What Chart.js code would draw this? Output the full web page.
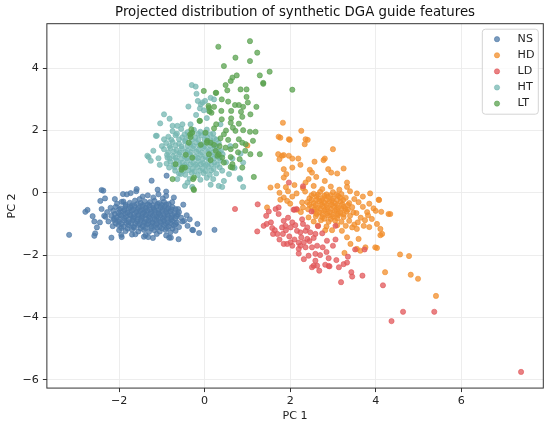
<!DOCTYPE html>
<html>
<head>
<meta charset="utf-8">
<script src="https://cdn.jsdelivr.net/npm/chart.js@4.4.1/dist/chart.umd.min.js"></script>
<style>
	html, body { margin: 0; padding: 0; background: #fff; }
	#mycanvas { display: block; }
</style>
</head>
<body>
<canvas id="mycanvas" width="550" height="425"></canvas>
<script>
// classes, in legend order
var classNames = ["NS", "HD", "LD", "HT", "LT"];
var xTicks = [-2, 0, 2, 4, 6];
var yTicks = [-6, -4, -2, 0, 2, 4];

// points, [PC 1, PC 2]
var nsPoints = [
	[-1.45,-0.12],[-1.33,-0.08],[-1.2,-0.15],[-1.08,-0.05],[-0.98,-0.18],[-1.52,-0.2],[-0.9,-0.1],
	[-2.05,-0.35],[-1.9,-0.28],[-1.75,-0.32],[-1.63,-0.25],[-1.5,-0.33],[-1.4,-0.28],[-1.28,-0.3],[-1.17,-0.26],[-1.06,-0.33],[-0.95,-0.29],[-0.84,-0.36],[-0.76,-0.3],
	[-1.85,-0.38],[-1.7,-0.4],[-1.58,-0.36],[-1.45,-0.39],[-1.33,-0.37],[-1.22,-0.4],[-1.1,-0.36],[-1.0,-0.39],[-0.9,-0.37],
	[-2.2,-0.48],[-2.08,-0.45],[-1.96,-0.5],[-1.85,-0.43],[-1.74,-0.47],[-1.64,-0.42],[-1.55,-0.49],[-1.46,-0.44],[-1.37,-0.47],[-1.29,-0.41],[-1.2,-0.48],[-1.12,-0.43],[-1.03,-0.47],[-0.94,-0.44],[-0.85,-0.5],[-0.75,-0.46],[-0.68,-0.52],
	[-2.0,-0.53],[-1.88,-0.55],[-1.78,-0.52],[-1.67,-0.54],[-1.57,-0.53],[-1.47,-0.55],[-1.38,-0.52],[-1.28,-0.54],[-1.18,-0.53],[-1.08,-0.55],[-0.98,-0.52],[-0.88,-0.54],[-0.78,-0.53],
	[-2.28,-0.62],[-2.14,-0.58],[-2.02,-0.64],[-1.9,-0.59],[-1.8,-0.63],[-1.7,-0.57],[-1.6,-0.62],[-1.51,-0.58],[-1.42,-0.63],[-1.34,-0.57],[-1.25,-0.61],[-1.16,-0.58],[-1.08,-0.64],[-0.99,-0.59],[-0.9,-0.62],[-0.8,-0.6],[-0.7,-0.65],[-0.6,-0.62],
	[-2.1,-0.68],[-1.98,-0.7],[-1.86,-0.67],[-1.75,-0.69],[-1.65,-0.68],[-1.55,-0.7],[-1.45,-0.67],[-1.36,-0.69],[-1.26,-0.68],[-1.17,-0.7],[-1.07,-0.67],[-0.97,-0.69],[-0.87,-0.68],[-0.76,-0.7],[-0.63,-0.69],
	[-2.32,-0.77],[-2.18,-0.74],[-2.06,-0.79],[-1.95,-0.73],[-1.84,-0.77],[-1.74,-0.72],[-1.65,-0.78],[-1.56,-0.73],[-1.47,-0.77],[-1.38,-0.72],[-1.3,-0.78],[-1.21,-0.74],[-1.12,-0.77],[-1.04,-0.72],[-0.95,-0.78],[-0.86,-0.74],[-0.77,-0.79],[-0.66,-0.75],[-0.55,-0.8],
	[-2.12,-0.83],[-2.0,-0.85],[-1.88,-0.82],[-1.77,-0.84],[-1.67,-0.83],[-1.57,-0.85],[-1.47,-0.82],[-1.37,-0.84],[-1.27,-0.83],[-1.17,-0.85],[-1.08,-0.82],[-0.98,-0.84],[-0.88,-0.83],[-0.78,-0.85],[-0.68,-0.82],
	[-2.25,-0.92],[-2.12,-0.88],[-2.0,-0.93],[-1.88,-0.89],[-1.78,-0.94],[-1.68,-0.88],[-1.58,-0.92],[-1.49,-0.87],[-1.4,-0.93],[-1.31,-0.89],[-1.22,-0.94],[-1.13,-0.88],[-1.04,-0.92],[-0.95,-0.89],[-0.86,-0.94],[-0.76,-0.9],[-0.65,-0.95],[-0.52,-0.92],
	[-2.08,-0.98],[-1.95,-1.0],[-1.83,-0.97],[-1.72,-0.99],[-1.62,-0.98],[-1.52,-1.0],[-1.42,-0.97],[-1.32,-0.99],[-1.22,-0.98],[-1.12,-1.0],[-1.02,-0.97],[-0.91,-0.99],[-0.8,-0.98],[-0.68,-1.0],
	[-2.15,-1.07],[-2.02,-1.03],[-1.9,-1.08],[-1.78,-1.04],[-1.66,-1.09],[-1.55,-1.03],[-1.45,-1.07],[-1.35,-1.02],[-1.25,-1.08],[-1.15,-1.04],[-1.05,-1.09],[-0.95,-1.03],[-0.84,-1.08],[-0.72,-1.05],[-0.6,-1.1],
	[-1.95,-1.13],[-1.8,-1.15],[-1.65,-1.12],[-1.5,-1.14],[-1.38,-1.13],[-1.25,-1.15],[-1.12,-1.12],[-1.0,-1.14],[-0.88,-1.13],[-0.75,-1.15],
	[-2.0,-1.2],[-1.85,-1.23],[-1.7,-1.18],[-1.55,-1.24],[-1.42,-1.19],[-1.3,-1.25],[-1.18,-1.2],[-1.05,-1.24],[-0.92,-1.19],[-0.8,-1.27],[-0.68,-1.22],
	[-1.95,-1.35],[-1.62,-1.33],[-1.38,-1.36],[-1.12,-1.32],[-0.9,-1.37],
	[-3.17,-1.35],[-2.37,0.07],[-2.44,-0.26],[-2.33,-0.18],[-2.74,-0.55],[-2.79,-0.61],[-2.58,-0.92],[-2.52,-1.11],[-2.56,-1.3],[-2.58,-1.38],
	[-2.18,-1.44],[-1.94,-1.42],[-1.7,-1.34],[-1.59,0.12],[-1.91,-0.04],[-1.73,-0.01],[-1.94,-0.29],[-0.9,0.04],[-1.24,0.39],[-0.89,0.55],
	[-0.62,-0.52],[-0.42,-0.72],[-0.29,-1.19],[-0.13,-1.29],[0.23,-1.19],[-0.61,-1.49],[-0.79,-1.44],[-1.21,-1.45],[-1.42,-1.41],[-0.17,-1.0],
	[-0.4,-1.06],[-2.41,-0.52],[-2.35,-0.74],[-1.82,-0.05],[-2.41,0.09],[-1.32,-1.42],[-0.83,-1.44],[-0.27,-1.2],[-2.62,-0.75],[-2.45,-0.95],
	[-0.48,-0.9],[-0.35,-0.85],[-0.5,-0.38],[-0.72,-0.15],[-1.1,0.1],[-2.1,-0.2],[-1.6,0.05]
];
var hdPoints = [
	[1.83,2.25],[2.26,1.99],[1.73,1.8],[1.99,1.7],[2.36,1.72],[2.41,1.7],[2.34,1.56],[3.0,1.4],[1.72,1.24],[1.85,1.21],
	[1.75,1.08],[1.97,1.19],[2.05,1.1],[2.19,1.1],[2.57,1.0],[2.78,1.05],[2.81,1.1],[3.25,0.78],[2.24,0.9],[2.05,0.81],
	[2.89,0.76],[2.96,0.65],[3.1,0.62],[2.46,0.74],[2.51,0.65],[1.85,0.76],[1.91,0.6],[1.85,0.49],[2.61,0.51],[2.81,0.38],
	[3.33,0.33],[3.33,0.19],[1.54,0.17],[1.7,0.22],[2.43,0.44],[2.36,0.33],[3.56,-0.02],[3.87,-0.02],[4.08,-0.23],[4.3,-0.68],
	[4.34,-0.68],[4.13,-0.61],[4.15,-1.32],[4.11,-1.36],[1.46,-0.47],[1.77,-0.22],[1.93,-0.26],[2.28,-0.31],[2.16,-0.54],[2.43,-0.79],
	[3.17,-0.15],[3.29,-0.52],[3.48,-0.63],[4.07,-0.22],[3.91,-0.84],[4.03,-1.0],[4.11,-1.16],[3.72,-1.06],[3.56,-1.16],[3.45,-1.11],
	[3.21,-1.22],[2.98,-1.2],[2.82,-1.2],[3.33,-1.43],[3.6,-1.48],[3.41,-1.64],[3.56,-1.8],[3.99,-1.75],[4.03,-1.77],[3.76,-1.75],
	[3.64,-1.86],[3.27,-1.93],[4.22,-2.55],[4.57,-1.98],[4.78,-2.03],[4.82,-2.63],[4.99,-2.76],[5.41,-3.31],[1.0,1.52],[1.77,1.77],
	[1.97,1.72],[1.81,1.19],
	[1.9,0.18],[2.1,0.25],[2.3,0.15],[2.55,0.22],[2.75,0.12],[2.95,0.2],[3.15,0.1],
	[1.75,0.0],[1.95,0.05],[2.15,-0.02],[2.35,0.04],[2.55,-0.03],[2.7,0.03],[2.85,-0.05],[3.0,0.02],[3.2,-0.04],[3.4,0.05],
	[2.5,-0.08],[2.65,-0.06],[2.8,-0.09],[2.95,-0.07],[3.08,-0.05],
	[1.85,-0.15],[2.05,-0.12],[2.45,-0.18],[2.62,-0.12],[2.75,-0.17],[2.88,-0.12],[3.0,-0.18],[3.12,-0.1],[3.3,-0.16],[3.5,-0.2],[3.7,-0.12],
	[2.5,-0.23],[2.62,-0.22],[2.74,-0.24],[2.86,-0.22],[2.98,-0.24],[3.1,-0.22],[3.24,-0.23],
	[2.0,-0.35],[2.4,-0.3],[2.55,-0.33],[2.68,-0.27],[2.8,-0.32],[2.92,-0.28],[3.05,-0.34],[3.18,-0.28],[3.38,-0.33],[3.6,-0.3],[3.85,-0.35],
	[2.45,-0.38],[2.6,-0.39],[2.73,-0.37],[2.85,-0.39],[2.97,-0.37],[3.1,-0.39],[3.22,-0.37],[3.35,-0.39],
	[2.3,-0.47],[2.5,-0.44],[2.63,-0.48],[2.75,-0.43],[2.87,-0.47],[3.0,-0.42],[3.12,-0.48],[3.25,-0.44],[3.45,-0.46],[3.7,-0.45],[3.95,-0.5],
	[2.42,-0.53],[2.57,-0.54],[2.7,-0.52],[2.82,-0.54],[2.95,-0.52],[3.08,-0.54],[3.2,-0.52],[3.35,-0.54],
	[2.25,-0.62],[2.55,-0.6],[2.68,-0.63],[2.8,-0.58],[2.93,-0.62],[3.05,-0.58],[3.18,-0.64],[3.32,-0.6],[3.55,-0.65],[3.8,-0.62],[4.0,-0.58],
	[2.62,-0.68],[2.75,-0.69],[2.87,-0.67],[3.0,-0.69],[3.12,-0.67],[3.25,-0.69],
	[2.6,-0.75],[2.75,-0.78],[2.88,-0.73],[3.0,-0.77],[3.12,-0.72],[3.25,-0.78],[3.4,-0.74],[3.65,-0.8],[3.82,-0.72],
	[2.8,-0.83],[2.95,-0.84],[3.1,-0.82],
	[2.55,-0.92],[2.72,-0.88],[2.9,-0.93],[3.05,-0.89],[3.2,-0.93],[3.38,-0.9],[3.58,-0.95],[3.75,-0.88],
	[2.65,-1.05],[2.85,-1.08],[3.1,-1.04],[3.3,-1.06],[3.5,-1.02],[3.85,-1.1]
];
var ldPoints = [
	[0.71,-0.52],[1.24,-0.37],[1.44,-0.74],[1.23,-1.24],[1.38,-1.06],[1.58,-1.13],[1.64,-1.2],[1.6,-1.32],[1.7,-1.32],[1.83,-1.32],
	[1.89,-1.06],[1.85,-0.9],[1.66,-0.52],[1.73,-0.47],[2.08,-0.54],[2.15,-0.52],[2.01,-1.11],[2.12,-1.04],[2.24,-1.27],[2.16,-1.22],
	[2.36,-1.22],[2.4,-1.11],[2.47,-1.27],[2.59,-1.32],[1.85,-1.64],[1.93,-1.64],[2.01,-1.59],[2.05,-1.7],[2.2,-1.8],[2.24,-1.7],
	[2.36,-1.75],[2.32,-1.59],[2.4,-1.48],[2.26,-1.43],[2.51,-1.75],[2.63,-1.7],[2.76,-1.75],[2.32,-2.13],[2.43,-2.02],[2.59,-1.96],
	[2.59,-2.18],[2.55,-2.34],[2.51,-2.39],[2.63,-2.34],[2.82,-2.31],[2.92,-2.36],[3.08,-2.16],[3.14,-2.39],[3.25,-2.29],[3.43,-2.55],
	[3.45,-2.69],[3.69,-2.66],[3.19,-2.87],[4.17,-2.97],[4.64,-3.82],[4.37,-4.12],[5.37,-3.82],[7.4,-5.75],[3.33,-2.24],[2.9,-2.35],
	[3.52,-1.82],[3.74,-1.82],[3.06,-1.5],[2.65,-1.07],[1.97,0.33],[2.3,0.21],[2.1,-0.54],[1.73,-0.68],[1.81,-1.11],[2.86,-1.54],
	[3.06,-1.06],[1.95,-0.8],[2.05,-0.95],[2.28,-0.85],[2.5,-0.6],[1.55,-0.95],[1.5,-0.6],[2.2,-1.95],[2.7,-2.0],[2.85,-1.9],
	[2.45,-1.55],[2.55,-1.45],[1.98,-1.4],[2.1,-1.5],[2.75,-1.3],[3.0,-1.7],[1.75,-1.5],[2.9,-2.1],[3.35,-2.05],[2.68,-2.5],
	[2.2,-1.6],[1.45,-1.0],[2.3,-1.0],[1.9,-1.2]
];
var htPoints = [
	[-0.3,3.46],[-0.21,3.41],[-0.19,3.18],[-0.16,2.95],[-0.09,2.84],[0.01,2.95],[-0.38,2.77],[-0.11,2.71],[-0.95,2.52],[-0.82,2.38],
	[-1.04,2.23],[-0.75,2.15],[-0.64,2.15],[-0.52,2.2],[-0.33,2.2],[-1.12,1.83],[-0.95,1.72],[-1.2,1.35],[-1.31,1.15],[-1.26,1.03],
	[-1.08,1.11],[-0.87,1.13],[-0.83,0.81],[-0.69,0.71],[-0.64,0.44],[-0.46,0.22],[-0.29,0.19],[0.33,0.22],[0.45,0.38],[0.83,0.44],
	[0.41,0.71],[0.57,0.6],[-1.34,1.19],[-1.14,1.83],[0.1,2.63],[-0.89,0.94],[-0.56,0.6],[-0.4,0.33],[0.14,3.05],[0.22,3.0],
	[-0.02,2.65],[0.37,2.2],[0.84,1.26],[0.9,0.97],[0.82,0.47],[0.41,0.19],[0.14,0.26],[0.9,0.19],[-0.05,2.9],[0.05,2.4],
	[-0.2,2.5],[0.6,1.5],[0.65,1.1],[0.7,0.8],[-1.0,1.5],[-1.05,0.9],
	[-0.75,1.98],[-0.55,2.05],[-0.4,1.95],[-0.25,2.02],[-0.1,1.96],[0.05,2.03],[0.2,1.9],
	[-0.65,1.9],[-0.47,1.88],[-0.3,1.92],[-0.15,1.89],[0.0,1.91],[0.13,1.88],
	[-0.85,1.8],[-0.68,1.85],[-0.52,1.78],[-0.38,1.83],[-0.22,1.77],[-0.08,1.84],[0.06,1.78],[0.22,1.75],
	[-0.78,1.7],[-0.6,1.72],[-0.45,1.69],[-0.3,1.71],[-0.15,1.7],[0.0,1.72],[0.14,1.69],[0.28,1.71],
	[-0.9,1.6],[-0.75,1.63],[-0.6,1.58],[-0.46,1.65],[-0.33,1.57],[-0.2,1.62],[-0.07,1.56],[0.06,1.63],[0.19,1.58],[0.33,1.6],
	[-0.82,1.5],[-0.68,1.52],[-0.54,1.49],[-0.4,1.51],[-0.26,1.5],[-0.13,1.52],[0.0,1.49],[0.13,1.51],[0.27,1.5],
	[-0.95,1.4],[-0.8,1.44],[-0.66,1.37],[-0.53,1.42],[-0.4,1.36],[-0.28,1.43],[-0.15,1.38],[-0.03,1.44],[0.1,1.37],[0.23,1.42],[0.38,1.35],
	[-0.85,1.3],[-0.72,1.32],[-0.58,1.29],[-0.45,1.31],[-0.32,1.3],[-0.19,1.32],[-0.06,1.29],[0.07,1.31],[0.2,1.3],[0.33,1.32],
	[-0.88,1.22],[-0.74,1.18],[-0.6,1.24],[-0.47,1.17],[-0.35,1.23],[-0.22,1.16],[-0.1,1.22],[0.02,1.15],[0.15,1.21],[0.28,1.17],[0.42,1.24],
	[-0.82,1.1],[-0.68,1.12],[-0.55,1.09],[-0.42,1.11],[-0.29,1.1],[-0.16,1.12],[-0.04,1.09],[0.09,1.11],[0.22,1.1],[0.35,1.12],
	[-0.8,1.0],[-0.66,1.04],[-0.52,0.97],[-0.4,1.03],[-0.27,0.96],[-0.15,1.02],[-0.03,0.95],[0.1,1.01],[0.23,0.97],[0.36,1.03],[0.5,0.98],
	[-0.72,0.9],[-0.59,0.92],[-0.46,0.89],[-0.33,0.91],[-0.21,0.9],[-0.09,0.92],[0.03,0.89],[0.16,0.91],[0.29,0.9],
	[-0.7,0.82],[-0.55,0.78],[-0.42,0.84],[-0.29,0.77],[-0.17,0.83],[-0.05,0.78],[0.08,0.84],[0.21,0.77],[0.35,0.82],
	[-0.5,0.7],[-0.37,0.72],[-0.24,0.69],[-0.11,0.71],[0.02,0.7],[0.15,0.72],
	[-0.6,0.62],[-0.45,0.58],[-0.3,0.64],[-0.16,0.57],[-0.02,0.63],[0.12,0.58],[0.27,0.62],
	[-0.35,0.45],[-0.1,0.42],[0.05,0.48],[0.2,0.44]
];
var ltPoints = [
	[1.06,4.87],[0.32,4.69],[1.23,4.5],[0.72,4.34],[1.06,4.23],[0.45,4.07],[1.52,3.89],[1.29,3.77],[1.37,3.5],[0.75,3.77],
	[0.65,3.7],[0.61,3.59],[0.49,3.46],[0.53,3.29],[0.84,3.32],[0.98,3.32],[-0.02,3.27],[0.27,3.21],[2.05,3.31],[0.98,3.08],
	[1.01,2.9],[0.55,2.93],[0.71,2.82],[0.8,2.82],[0.9,2.76],[0.1,2.73],[0.22,2.76],[1.21,2.76],[0.39,2.63],[0.62,2.63],
	[0.12,2.61],[0.88,2.44],[1.07,2.52],[0.62,2.39],[0.61,2.25],[0.4,2.36],[-0.11,2.31],[0.8,2.22],[0.27,2.2],[0.22,2.07],
	[0.66,2.09],[0.72,1.99],[0.9,2.01],[1.06,1.96],[1.19,1.96],[0.45,1.88],[0.37,1.75],[-0.31,2.04],[-0.33,1.79],[0.02,1.93],
	[0.06,1.67],[0.14,1.61],[0.8,1.72],[0.88,1.61],[0.96,1.56],[1.13,1.67],[0.22,1.54],[-0.09,1.54],[0.49,1.45],[0.61,1.4],
	[0.72,1.51],[0.1,1.24],[0.3,1.19],[0.41,1.13],[0.61,1.15],[0.14,1.05],[0.45,0.97],[0.65,0.92],[0.82,1.08],[1.07,1.24],
	[1.29,1.24],[0.88,0.81],[1.15,0.51],[-0.29,1.13],[-0.44,1.22],[-0.68,0.92],[-0.52,0.81],[-0.25,0.49],[-0.75,0.44],[0.61,0.83],
	[-0.25,0.09],[0.26,3.21],[0.09,2.79],[0.16,2.57],[-0.12,2.31],[-0.34,1.88],[-0.29,1.93],[-0.37,1.61],[0.05,1.61],[-0.46,0.81],
	[-0.54,0.74],[-0.27,0.44],[-0.26,0.12],[0.26,1.35],[0.33,1.24],[0.65,0.81],[1.37,3.53],[0.5,2.0],[0.55,1.7],[0.35,1.5],
	[0.95,1.35],[0.78,1.3],[0.4,3.0],[0.85,2.6]
];

var seriesPoints = [nsPoints, hdPoints, ldPoints, htPoints, ltPoints];
var seriesColors = ["rgba(78, 121, 167, 0.75)", "rgba(242, 142, 43, 0.75)", "rgba(225, 87, 89, 0.75)", "rgba(118, 183, 178, 0.75)", "rgba(89, 161, 79, 0.75)"];

function minusSign(v) {
	return v < 0 ? "\u2212" + Math.abs(v) : "" + v;
}

var datasets = [];
for (var i in classNames) {
	datasets.push({
		label: classNames[i],
		data: seriesPoints[i].map(function(p) { return {x: p[0], y: p[1]}; }),
		backgroundColor: seriesColors[i],
		borderColor: seriesColors[i],
		borderWidth: 0.8,
		pointRadius: 2.6,
		pointHoverRadius: 2.6,
		// later classes are painted on top
		order: classNames.length - i
	});
}

// box round the plot
var frame = {
	id: "frame",
	afterDatasetsDraw: function(chart) {
		var a = chart.chartArea, ctx = chart.ctx;
		ctx.save();
		ctx.strokeStyle = "#333";
		ctx.lineWidth = 1;
		ctx.strokeRect(a.left, a.top, a.right - a.left, a.bottom - a.top);
		ctx.restore();
	}
};

// legend inside the upper right corner
var innerLegend = {
	id: "innerLegend",
	afterDraw: function(chart) {
		var a = chart.chartArea, ctx = chart.ctx;
		var w = 56, h = 85;
		var x = a.right - 5 - w, y = a.top + 5.5;
		ctx.save();
		ctx.beginPath();
		ctx.roundRect(x, y, w, h, 3);
		ctx.fillStyle = "rgba(255, 255, 255, 0.8)";
		ctx.fill();
		ctx.strokeStyle = "#d4d4d4";
		ctx.lineWidth = 1;
		ctx.stroke();
		ctx.font = "11.1px 'DejaVu Sans'";
		ctx.textBaseline = "middle";
		ctx.textAlign = "left";
		chart.data.datasets.forEach(function(ds, k) {
			var cy = y + 10 + k * 16.1;
			ctx.beginPath();
			ctx.arc(x + 14.7, cy, 2.6, 0, Math.PI * 2);
			ctx.fillStyle = ds.backgroundColor;
			ctx.fill();
			ctx.lineWidth = 0.8;
			ctx.strokeStyle = ds.borderColor;
			ctx.stroke();
			ctx.fillStyle = "#222";
			ctx.fillText(ds.label, x + 35.3, cy);
		});
		ctx.restore();
	}
};

Chart.defaults.font.family = "'DejaVu Sans'";
Chart.defaults.color = "#222";

var ctx = document.getElementById("mycanvas");
var scatterChart = new Chart(ctx, {
	type: "scatter",
	data: { datasets: datasets },
	options: {
		responsive: false,
		animation: false,
		layout: { padding: { left: 0.7, right: 6.7, top: 0, bottom: 0 } },
		plugins: {
			legend: { display: false },
			tooltip: { enabled: false },
			title: {
				display: true,
				text: "Projected distribution of synthetic DGA guide features",
				fullSize: false,
				color: "#111",
				font: { size: 13.33, weight: "normal" },
				padding: { top: 4.5, bottom: 3.2 }
			}
		},
		scales: {
			x: {
				type: "linear",
				min: -3.69,
				max: 7.92,
				afterBuildTicks: function(axis) {
					axis.ticks = xTicks.map(function(v) { return {value: v}; });
				},
				ticks: { callback: minusSign, font: { size: 11.1, lineHeight: 1.0 }, padding: 3, maxRotation: 0, color: "#222" },
				grid: { color: "#ebebeb", lineWidth: 0.9, tickLength: 4, tickColor: "#333", tickWidth: 1 },
				border: { display: false },
				title: { display: true, text: "PC 1", font: { size: 11.1 }, color: "#222", padding: { top: 0.6, bottom: 1.9 } }
			},
			y: {
				type: "linear",
				min: -6.27,
				max: 5.43,
				afterBuildTicks: function(axis) {
					axis.ticks = yTicks.map(function(v) { return {value: v}; });
				},
				ticks: { callback: minusSign, font: { size: 11.1 }, padding: 4, color: "#222" },
				grid: { color: "#ebebeb", lineWidth: 0.9, tickLength: 4, tickColor: "#333", tickWidth: 1 },
				border: { display: false },
				title: { display: true, text: "PC 2", font: { size: 11.1 }, color: "#222", padding: { top: 4.5, bottom: 0 } }
			}
		}
	},
	plugins: [frame, innerLegend]
});
</script>
</body>
</html>
